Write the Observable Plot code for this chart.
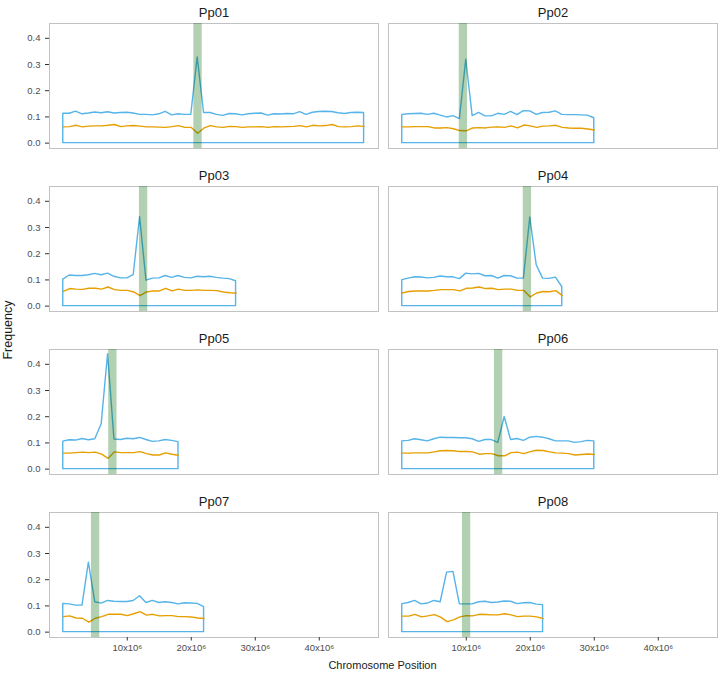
<!DOCTYPE html>
<html>
<head>
<meta charset="utf-8">
<script src="https://cdn.jsdelivr.net/npm/d3@7"></script>
<script src="https://cdn.jsdelivr.net/npm/@observablehq/plot@0.6"></script>
<style>
  html, body { margin: 0; padding: 0; background: #ffffff; }
  #chart { width: 720px; height: 675px; }
</style>
</head>
<body>
<div id="chart"></div>
<script>
// ---- data ----
const chromosomes = ["Pp01", "Pp02", "Pp03", "Pp04", "Pp05", "Pp06", "Pp07", "Pp08"];
// window step of the genome scan, in bp (one window per Mb)
const windowStep = 1e6;
// centromere interval (Mb)
const centStartMb = [20.4, 8.9, 11.9, 18.9, 7.1, 14.4, 4.4, 9.4];
const centEndMb   = [21.7, 10.2, 13.2, 20.2, 8.4, 15.7, 5.7, 10.7];

// blue series (frequency, outlined)
const bluePp01 = [0.112,0.112,0.120,0.110,0.113,0.117,0.114,0.118,0.113,0.115,0.116,0.113,0.108,0.108,0.106,0.110,0.119,0.106,0.110,0.108,0.108,0.327,0.115,0.115,0.108,0.104,0.111,0.110,0.106,0.110,0.112,0.113,0.105,0.110,0.109,0.111,0.110,0.118,0.108,0.116,0.119,0.120,0.119,0.114,0.111,0.115,0.116,0.115];
const bluePp02 = [0.108,0.110,0.111,0.112,0.108,0.112,0.105,0.098,0.103,0.092,0.318,0.103,0.115,0.102,0.102,0.112,0.108,0.119,0.107,0.122,0.121,0.108,0.115,0.116,0.121,0.108,0.107,0.107,0.106,0.105,0.095];
const bluePp03 = [0.101,0.117,0.115,0.115,0.118,0.123,0.118,0.124,0.112,0.106,0.106,0.118,0.340,0.097,0.105,0.106,0.115,0.108,0.115,0.108,0.106,0.112,0.110,0.112,0.108,0.105,0.103,0.095];
const bluePp04 = [0.099,0.105,0.110,0.109,0.106,0.108,0.113,0.110,0.110,0.103,0.124,0.121,0.123,0.114,0.115,0.105,0.115,0.114,0.105,0.105,0.338,0.156,0.105,0.104,0.109,0.073];
const bluePp05 = [0.105,0.110,0.109,0.115,0.110,0.114,0.171,0.439,0.113,0.111,0.116,0.114,0.119,0.111,0.104,0.106,0.111,0.108,0.103];
const bluePp06 = [0.106,0.108,0.114,0.110,0.106,0.114,0.120,0.119,0.119,0.118,0.118,0.114,0.104,0.111,0.111,0.100,0.199,0.111,0.115,0.108,0.120,0.123,0.120,0.114,0.106,0.106,0.106,0.100,0.103,0.108,0.106];
const bluePp07 = [0.108,0.106,0.101,0.101,0.265,0.114,0.109,0.119,0.116,0.115,0.115,0.119,0.137,0.111,0.119,0.111,0.114,0.111,0.106,0.110,0.109,0.108,0.095];
const bluePp08 = [0.107,0.111,0.119,0.106,0.109,0.119,0.114,0.227,0.230,0.106,0.106,0.106,0.114,0.116,0.111,0.113,0.117,0.116,0.107,0.110,0.111,0.105,0.103];

// orange series (frequency, line)
const orangePp01 = [0.062,0.063,0.068,0.062,0.065,0.066,0.066,0.068,0.071,0.063,0.066,0.067,0.065,0.062,0.062,0.061,0.060,0.063,0.067,0.060,0.060,0.038,0.058,0.067,0.062,0.060,0.064,0.063,0.060,0.062,0.062,0.063,0.060,0.063,0.062,0.063,0.064,0.067,0.062,0.068,0.066,0.067,0.071,0.063,0.062,0.063,0.066,0.064];
const orangePp02 = [0.062,0.062,0.063,0.063,0.063,0.058,0.058,0.059,0.055,0.048,0.047,0.058,0.059,0.058,0.061,0.062,0.060,0.066,0.058,0.069,0.066,0.060,0.065,0.066,0.068,0.060,0.058,0.057,0.057,0.054,0.050];
const orangePp03 = [0.056,0.067,0.065,0.064,0.068,0.068,0.065,0.073,0.063,0.060,0.060,0.054,0.040,0.054,0.058,0.058,0.068,0.058,0.065,0.060,0.060,0.062,0.060,0.060,0.059,0.054,0.051,0.050];
const orangePp04 = [0.050,0.056,0.058,0.058,0.058,0.060,0.063,0.063,0.063,0.058,0.068,0.069,0.073,0.067,0.068,0.063,0.065,0.065,0.060,0.060,0.035,0.050,0.056,0.055,0.059,0.040];
const orangePp05 = [0.061,0.061,0.063,0.065,0.063,0.065,0.057,0.041,0.066,0.063,0.063,0.063,0.067,0.059,0.054,0.054,0.062,0.057,0.053];
const orangePp06 = [0.061,0.061,0.062,0.062,0.062,0.066,0.070,0.071,0.070,0.067,0.067,0.066,0.057,0.059,0.059,0.051,0.051,0.063,0.065,0.059,0.067,0.072,0.071,0.066,0.062,0.061,0.059,0.054,0.056,0.058,0.056];
const orangePp07 = [0.059,0.062,0.054,0.053,0.038,0.053,0.059,0.068,0.068,0.068,0.063,0.070,0.078,0.065,0.068,0.062,0.063,0.063,0.059,0.059,0.058,0.054,0.052];
const orangePp08 = [0.061,0.061,0.068,0.058,0.062,0.067,0.057,0.040,0.047,0.058,0.063,0.062,0.068,0.067,0.066,0.066,0.070,0.066,0.059,0.061,0.061,0.058,0.052];

const yTicks = [0, 0.1, 0.2, 0.3, 0.4];
const xTicks = [10e6, 20e6, 30e6, 40e6];

// ---- build tables ----
const blueSeries = [bluePp01, bluePp02, bluePp03, bluePp04, bluePp05, bluePp06, bluePp07, bluePp08];
const orangeSeries = [orangePp01, orangePp02, orangePp03, orangePp04, orangePp05, orangePp06, orangePp07, orangePp08];

const rows = [];
chromosomes.forEach((chr, i) => {
  blueSeries[i].forEach((v, j) => {
    rows.push({chr, col: i % 2, row: Math.floor(i / 2), pos: j * windowStep, blue: v, orange: orangeSeries[i][j]});
  });
});
const panels = chromosomes.map((chr, i) => ({
  chr, col: i % 2, row: Math.floor(i / 2),
  c1: centStartMb[i] * 1e6, c2: centEndMb[i] * 1e6
}));

const FONT = "'Liberation Sans', Arial, Helvetica, sans-serif";

const svg = Plot.plot({
  width: 720,
  height: 675,
  marginLeft: 48,
  marginRight: 3,
  marginTop: 22,
  marginBottom: 36,
  style: {fontFamily: FONT, fontSize: "9px", background: "#ffffff", color: "#4d4d4d"},
  fx: {axis: null, domain: [0, 1], paddingInner: 0.03, paddingOuter: 0},
  fy: {axis: null, domain: [0, 1, 2, 3], paddingInner: 0.232, paddingOuter: 0},
  x: {domain: [-2.15e6, 49.25e6]},
  y: {domain: [-0.0205, 0.4565]},
  marks: [
    Plot.frame({stroke: "#c2c2c2", strokeWidth: 1}),
    Plot.areaY(rows, {x: "pos", y: "blue", fx: "col", fy: "row", fill: "none", stroke: "#56B4E9", strokeWidth: 1.4}),
    Plot.lineY(rows, {x: "pos", y: "orange", fx: "col", fy: "row", stroke: "#E69F00", strokeWidth: 1.4}),
    Plot.barX(panels, {x1: "c1", x2: "c2", fx: "col", fy: "row", fill: "darkgreen", fillOpacity: 0.3}),
    Plot.axisX(xTicks, {
      anchor: "bottom", tickSize: 3.5, tickPadding: 3.5,
      tickFormat: d => `${d / 1e6}x10⁶`, label: null,
      stroke: "#333333", fill: "#4d4d4d"
    }),
    Plot.axisY(yTicks, {
      anchor: "left", tickSize: 4, tickPadding: 5,
      tickFormat: d3.format(".1f"), label: null,
      stroke: "#333333", fill: "#4d4d4d"
    }),
    Plot.text(panels, {
      fx: "col", fy: "row", text: "chr", frameAnchor: "top", lineAnchor: "bottom",
      dy: -7, fontSize: 13, fill: "#1a1a1a"
    })
  ]
});

const s = d3.select(svg);
// slightly larger tick label fonts
s.selectAll("text").filter(function () {
  return /x10⁶$/.test(this.textContent) || /^0\.\d$/.test(this.textContent);
}).attr("font-size", 9.5);

s.append("text")
  .attr("x", 382.5).attr("y", 669)
  .attr("text-anchor", "middle")
  .attr("font-family", FONT).attr("font-size", 11).attr("fill", "#1a1a1a")
  .text("Chromosome Position");
s.append("text")
  .attr("transform", "translate(12,330) rotate(-90)")
  .attr("text-anchor", "middle")
  .attr("font-family", FONT).attr("font-size", 12.5).attr("fill", "#1a1a1a")
  .text("Frequency");

document.getElementById("chart").appendChild(svg);
</script>
</body>
</html>
